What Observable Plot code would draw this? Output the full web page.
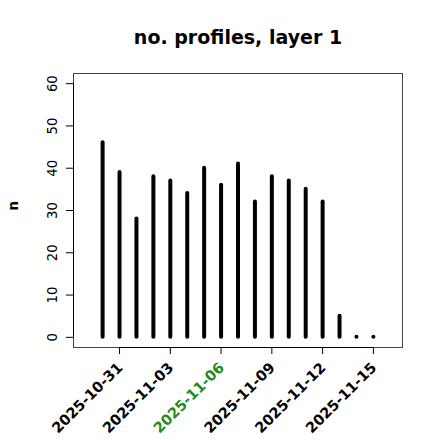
<!DOCTYPE html>
<html>
<head>
<meta charset="utf-8">
<script src="https://cdn.jsdelivr.net/npm/d3@7"></script>
<script src="https://cdn.jsdelivr.net/npm/@observablehq/plot@0.6"></script>
<style>
  html, body { margin: 0; padding: 0; background: white; }
</style>
</head>
<body>
<div id="chart"></div>
<script>
const dates = ["2025-10-30","2025-10-31","2025-11-01","2025-11-02","2025-11-03","2025-11-04",
  "2025-11-05","2025-11-06","2025-11-07","2025-11-08","2025-11-09","2025-11-10",
  "2025-11-11","2025-11-12","2025-11-13","2025-11-14","2025-11-15"];
const counts = [46, 39, 28, 38, 37, 34, 40, 36, 41, 32, 38, 37, 35, 32, 5, 0, 0];
const xTickLabels = ["2025-10-31","2025-11-03","2025-11-06","2025-11-09","2025-11-12","2025-11-15"];
const highlightLabel = "2025-11-06";
const yTicks = [0, 10, 20, 30, 40, 50, 60];
const title = "no. profiles, layer 1";
const yLabel = "n";

const parse = d3.utcParse("%Y-%m-%d");
const data = dates.map((d, i) => ({date: parse(d), n: counts[i]}));
const tickDates = xTickLabels.map(parse);

const DAY = 864e5;
const xa = +data[0].date - DAY, xb = +data[data.length - 1].date + DAY;
const xpad = (xb - xa) * 0.04;
const xDomain = [new Date(xa - xpad), new Date(xb + xpad)];
const ya = yTicks[0], yb = yTicks[yTicks.length - 1];
const ypad = (yb - ya) * 0.04;
const yDomain = [ya - ypad, yb + ypad];

const chart = Plot.plot({
  width: 440,
  height: 440,
  marginLeft: 73,
  marginRight: 38,
  marginTop: 73,
  marginBottom: 93,
  style: {fontFamily: "DejaVu Sans", fontSize: "13.3px", background: "white", color: "black"},
  x: {type: "utc", domain: xDomain},
  y: {domain: yDomain},
  marks: [
    Plot.frame({stroke: "#444"}),
    Plot.ruleX(data, {x: "date", y1: 0, y2: "n", stroke: "black", strokeWidth: 4, strokeLinecap: "round"}),
    Plot.ruleX([xDomain[0]], {y1: ya, y2: yb, stroke: "black"}),
    Plot.axisY({ticks: yTicks, tickSize: 7, tickRotate: -90, tickPadding: 10, label: null, fontSize: 13.3}),
    Plot.ruleY([yDomain[0]], {x1: tickDates[0], x2: tickDates[tickDates.length - 1], stroke: "black"}),
    Plot.axisX({ticks: tickDates, tickSize: 7, tickFormat: () => "", label: null}),
    Plot.text(xTickLabels, {
      x: (d) => parse(d), text: (d) => d, frameAnchor: "bottom",
      rotate: -45, textAnchor: "end", dx: 4, dy: 21,
      fontWeight: "bold", fontSize: 14.5,
      fill: (d) => d === highlightLabel ? "#228B22" : "black"
    }),
    Plot.text([title], {frameAnchor: "top", dy: -43, fontSize: 19, fontWeight: "bold", text: (d) => d}),
    Plot.text([yLabel], {frameAnchor: "left", dx: -60, rotate: -90, fontSize: 13.3, fontWeight: "bold", text: (d) => d})
  ]
});
document.getElementById("chart").appendChild(chart);
</script>
</body>
</html>
